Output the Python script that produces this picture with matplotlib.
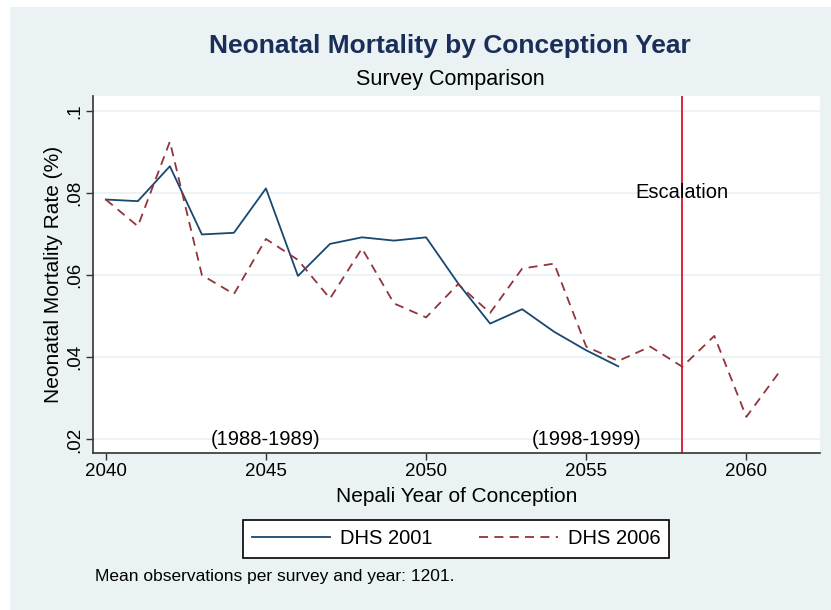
import numpy as np
import matplotlib.pyplot as plt
from matplotlib.patches import Rectangle

plt.rcParams['font.family'] = ['Liberation Sans', 'DejaVu Sans']

years_2001 = [2040, 2041, 2042, 2043, 2044, 2045, 2046, 2047, 2048, 2049, 2050,
              2051, 2052, 2053, 2054, 2055, 2056]
dhs_2001 = [0.0784, 0.0780, 0.0865, 0.0699, 0.0703, 0.0811, 0.0598, 0.0676, 0.0692,
            0.0684, 0.0692, 0.0580, 0.0482, 0.0517, 0.0462, 0.0417, 0.0378]

years_2006 = [2040, 2041, 2042, 2043, 2044, 2045, 2046, 2047, 2048, 2049, 2050,
              2051, 2052, 2053, 2054, 2055, 2056, 2057, 2058, 2059, 2060, 2061]
dhs_2006 = [0.0784, 0.0719, 0.0925, 0.0600, 0.0554, 0.0688, 0.0637, 0.0543, 0.0665,
            0.0531, 0.0497, 0.0578, 0.0508, 0.0616, 0.0628, 0.0426, 0.0391, 0.0426,
            0.0377, 0.0452, 0.0255, 0.0361]

xticks = [2040, 2045, 2050, 2055, 2060]
yticks = [0.02, 0.04, 0.06, 0.08, 0.1]
ylabels = ['.02', '.04', '.06', '.08', '.1']
escalation_year = 2058

bg = '#eaf2f3'
fig = plt.figure(figsize=(8.31, 6.10), dpi=100)
fig.patch.set_facecolor('white')
fig.patches.append(Rectangle((10 / 831, 0), 1, 603 / 610, transform=fig.transFigure,
                             facecolor=bg, edgecolor='none', zorder=-10))

ax = fig.add_axes([93 / 831, 1 - 453 / 610, 727 / 831, 357 / 610])
ax.set_facecolor('white')

ax.plot(years_2001, dhs_2001, color='#1a476f', lw=1.3, label='DHS 2001')
ax.plot(years_2006, dhs_2006, color='#90353b', lw=1.3, ls=(0, (5, 3.5)), label='DHS 2006')
ax.axvline(escalation_year, color='#d7162f', lw=1.3)

ax.text(escalation_year, 0.08, 'Escalation', ha='center', va='center', fontsize=14.5)
ax.text(2045, 0.02, '(1988-1989)', ha='center', va='center', fontsize=14.5)
ax.text(2055, 0.02, '(1998-1999)', ha='center', va='center', fontsize=14.5)

ax.set_xlim(2039.6, 2062.3)
ax.set_ylim(0.0167, 0.1036)
ax.set_xticks(xticks)
ax.set_yticks(yticks)
ax.set_yticklabels(ylabels, rotation=90, va='center')
ax.tick_params(labelsize=13.5, length=5, width=1, color='#333333', pad=2)
ax.grid(axis='y', color=bg, lw=1.3)
ax.set_axisbelow(True)
for s in ['top', 'right']:
    ax.spines[s].set_visible(False)
for s in ['left', 'bottom']:
    ax.spines[s].set_color('#333333')
    ax.spines[s].set_linewidth(1.2)

ax.set_xlabel('Nepali Year of Conception', fontsize=15, labelpad=5)
ax.set_ylabel('Neonatal Mortality Rate (%)', fontsize=15, labelpad=2)

fig.text(450 / 831, 1 - 46 / 610, 'Neonatal Mortality by Conception Year',
         ha='center', va='center', fontsize=19, fontweight='bold', color='#1a2e5a')
fig.text(450 / 831, 1 - 79 / 610, 'Survey Comparison', ha='center', va='center', fontsize=15.5)

leg = fig.legend(loc='center', bbox_to_anchor=(456 / 831, 1 - 539 / 610), ncol=2,
                 fancybox=False, edgecolor='black', framealpha=1, fontsize=14.5,
                 handlelength=3.9, columnspacing=2.3, borderpad=0.45, handletextpad=0.5)
leg.get_frame().set_linewidth(1.2)

fig.text(95 / 831, 1 - 577 / 610, 'Mean observations per survey and year: 1201.',
         ha='left', va='center', fontsize=12.5)

fig.savefig('out.png', dpi=100)
